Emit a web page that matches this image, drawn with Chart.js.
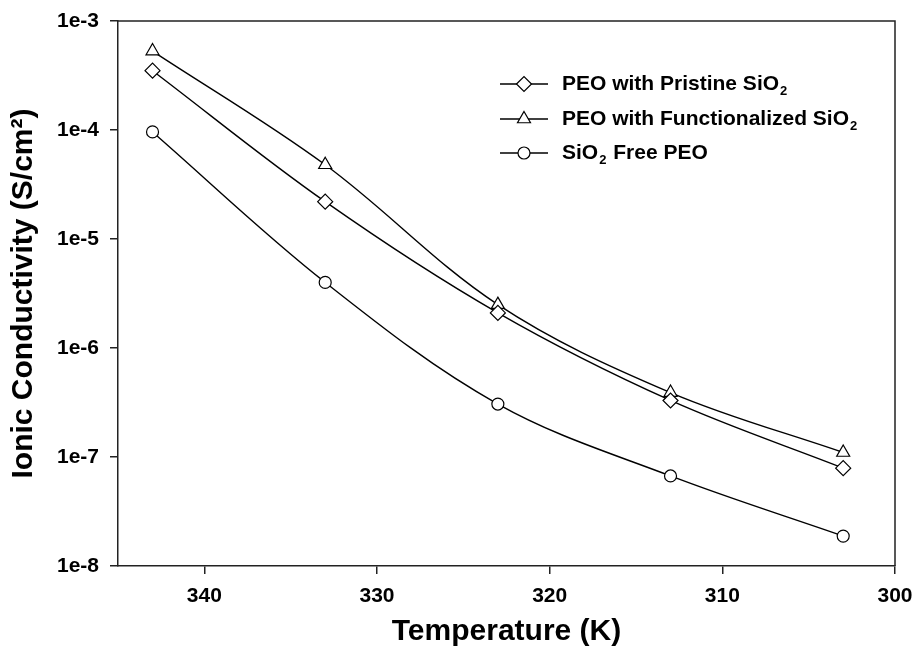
<!DOCTYPE html>
<html>
<head>
<meta charset="utf-8">
<script src="https://cdn.jsdelivr.net/npm/chart.js@4/dist/chart.umd.min.js"></script>
<style>
    body { margin: 0; background: #fff; }
    canvas { display: block; }
</style>
</head>
<body>
<canvas id="conductivityChart" width="915" height="648"></canvas>
<script>
// Data
const temperatures = [343, 333, 323, 313, 303];
const pristineSiO2 = [3.5e-4, 2.2e-5, 2.1e-6, 3.3e-7, 7.9e-8];
const functionalizedSiO2 = [5.3e-4, 4.8e-5, 2.5e-6, 3.9e-7, 1.1e-7];
const freePEO = [9.6e-5, 4.0e-6, 3.06e-7, 6.7e-8, 1.88e-8];

const seriesLabels = ['PEO with Pristine SiO₂', 'PEO with Functionalized SiO₂', 'SiO₂ Free PEO'];
const xTicks = [340, 330, 320, 310, 300];
const yTicks = [1e-8, 1e-7, 1e-6, 1e-5, 1e-4, 1e-3];

const FONT = "'Liberation Sans', Arial, Helvetica, sans-serif";

function toPoints(values) {
    return values.map((v, i) => ({ x: temperatures[i], y: v }));
}

function makeDataset(label, values, style, radius) {
    return {
        label: label,
        data: toPoints(values),
        borderColor: '#000',
        borderWidth: 1.4,
        backgroundColor: '#fff',
        pointStyle: style,
        pointRadius: radius,
        pointBorderWidth: 1.2,
        pointBorderColor: '#000',
        pointBackgroundColor: '#fff',
        tension: 0.35,
        fill: false
    };
}

// Draw frame on top and right of the plot area
const frameBox = {
    id: 'frameBox',
    afterDraw(chart) {
        const { ctx, chartArea: a } = chart;
        ctx.save();
        ctx.strokeStyle = '#222';
        ctx.lineWidth = 1.5;
        ctx.beginPath();
        ctx.moveTo(a.left, a.top);
        ctx.lineTo(a.right, a.top);
        ctx.lineTo(a.right, a.bottom);
        ctx.stroke();
        ctx.restore();
    }
};

// Legend inside the plot with subscripted "2"
const insideLegend = {
    id: 'insideLegend',
    afterDraw(chart) {
        const ctx = chart.ctx;
        const x0 = 500, x1 = 548, tx = 562;
        const rows = [84, 119, 153];
        ctx.save();
        chart.data.datasets.forEach((ds, i) => {
            const y = rows[i];
            ctx.strokeStyle = '#000';
            ctx.lineWidth = 1.4;
            ctx.beginPath();
            ctx.moveTo(x0, y);
            ctx.lineTo(x1, y);
            ctx.stroke();
            ctx.fillStyle = '#fff';
            ctx.lineWidth = 1.2;
            Chart.helpers.drawPoint(ctx, { pointStyle: ds.pointStyle, radius: ds.pointRadius, borderWidth: 1.2 }, (x0 + x1) / 2, y);

            // text with subscripts
            ctx.fillStyle = '#000';
            ctx.textBaseline = 'middle';
            ctx.textAlign = 'left';
            let x = tx;
            const parts = ds.label.split('₂');
            parts.forEach((part, j) => {
                ctx.font = 'bold 21px ' + FONT;
                ctx.fillText(part, x, y);
                x += ctx.measureText(part).width;
                if (j < parts.length - 1) {
                    ctx.font = 'bold 13px ' + FONT;
                    ctx.fillText('2', x + 1, y + 7);
                    x += ctx.measureText('2').width + 2;
                }
            });
        });
        ctx.restore();
    }
};

document.addEventListener('DOMContentLoaded', function() {
    const ctx = document.getElementById('conductivityChart');

    new Chart(ctx, {
        type: 'line',
        data: {
            datasets: [
                makeDataset(seriesLabels[0], pristineSiO2, 'rectRot', 7.5),
                makeDataset(seriesLabels[1], functionalizedSiO2, 'triangle', 7.5),
                makeDataset(seriesLabels[2], freePEO, 'circle', 6)
            ]
        },
        options: {
            responsive: false,
            animation: false,
            layout: {
                padding: { left: 0, top: 21, right: 20, bottom: 0 }
            },
            scales: {
                x: {
                    type: 'linear',
                    reverse: true,
                    min: 300,
                    max: 345,
                    afterBuildTicks: function(axis) {
                        axis.ticks = xTicks.map(v => ({ value: v }));
                    },
                    afterFit: function(axis) {
                        axis.height = 82;
                        axis.paddingLeft = 0;
                        axis.paddingRight = 0;
                    },
                    grid: {
                        display: true,
                        drawOnChartArea: false,
                        drawTicks: true,
                        tickLength: 8,
                        color: '#222',
                        lineWidth: 1.5
                    },
                    border: { display: true, color: '#222', width: 1.5 },
                    ticks: {
                        color: '#000',
                        padding: 10,
                        maxRotation: 0,
                        font: { family: FONT, size: 21, weight: 'bold' }
                    },
                    title: {
                        display: true,
                        text: 'Temperature (K)',
                        color: '#000',
                        padding: { top: 0, bottom: 1 },
                        font: { family: FONT, size: 30, weight: 'bold', lineHeight: 1 }
                    }
                },
                y: {
                    type: 'logarithmic',
                    min: 1e-8,
                    max: 1e-3,
                    afterBuildTicks: function(axis) {
                        axis.ticks = yTicks.map(v => ({ value: v }));
                    },
                    afterFit: function(axis) {
                        axis.width = 118;
                        axis.paddingTop = 0;
                        axis.paddingBottom = 0;
                    },
                    grid: {
                        display: true,
                        drawOnChartArea: false,
                        drawTicks: true,
                        tickLength: 8,
                        color: '#222',
                        lineWidth: 1.5
                    },
                    border: { display: true, color: '#222', width: 1.5 },
                    ticks: {
                        color: '#000',
                        padding: 11,
                        font: { family: FONT, size: 21, weight: 'bold' },
                        callback: function(value) {
                            return '1e' + Math.round(Math.log10(value));
                        }
                    },
                    title: {
                        display: true,
                        text: 'Ionic Conductivity (S/cm²)',
                        color: '#000',
                        padding: { top: 9, bottom: 0 },
                        font: { family: FONT, size: 30, weight: 'bold', lineHeight: 1 }
                    }
                }
            },
            plugins: {
                legend: { display: false },
                tooltip: { enabled: false }
            }
        },
        plugins: [frameBox, insideLegend]
    });
});
</script>
</body>
</html>
